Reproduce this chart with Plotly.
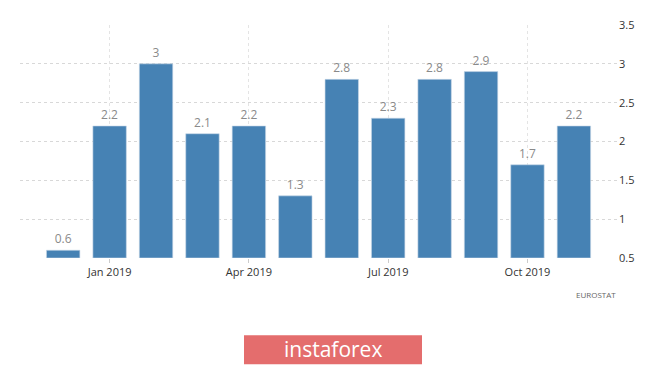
import plotly.graph_objects as go

months = ["Dec 2018", "Jan 2019", "Feb 2019", "Mar 2019", "Apr 2019", "May 2019",
          "Jun 2019", "Jul 2019", "Aug 2019", "Sep 2019", "Oct 2019", "Nov 2019"]
values = [0.6, 2.2, 3.0, 2.1, 2.2, 1.3, 2.8, 2.3, 2.8, 2.9, 1.7, 2.2]
value_labels = ["0.6", "2.2", "3", "2.1", "2.2", "1.3", "2.8", "2.3", "2.8", "2.9", "1.7", "2.2"]
x_ticks = ["Jan 2019", "Apr 2019", "Jul 2019", "Oct 2019"]
y_ticks = [0.5, 1, 1.5, 2, 2.5, 3, 3.5]
y_ticktext = ["0.5", "1", "1.5", "2", "2.5", "3", "3.5"]
axis_base = 0.5

fig = go.Figure()
fig.add_trace(go.Bar(
    x=months, y=[v - axis_base for v in values], base=axis_base,
    marker=dict(color="#4682B4", line=dict(color="#c9d9e8", width=0.6)),
    text=value_labels, textposition="outside", cliponaxis=False,
    textfont=dict(family="Open Sans, Arial, sans-serif", size=12, color="#8a8a8a"),
    width=0.72, hoverinfo="skip",
))

# page body has an 8px margin, so the figure is 8px smaller and offset
fig.update_layout(
    width=657, height=361,
    margin=dict(l=12, r=47, t=9, b=111),
    paper_bgcolor="white", plot_bgcolor="white",
    showlegend=False,
    font=dict(family="Open Sans, Arial, sans-serif", color="#333333"),
    xaxis=dict(
        type="category", range=[-0.93, 11.95],
        tickmode="array", tickvals=x_ticks, ticktext=x_ticks,
        showgrid=True, gridcolor="#e4e4e4", griddash="dot", gridwidth=1,
        ticks="outside", ticklen=4, tickcolor="#cccccc",
        tickfont=dict(size=11, color="#333333"),
        showline=False, zeroline=False,
    ),
    yaxis=dict(
        side="right", range=[0.5, 3.5],
        tickmode="array", tickvals=y_ticks, ticktext=y_ticktext,
        showgrid=True, gridcolor="#d8d8d8", griddash="dot", gridwidth=1,
        tickfont=dict(size=11, color="#333333"),
        ticks="", zeroline=False, showline=False,
    ),
)

fig.add_annotation(
    text="EUROSTAT", xref="paper", yref="paper", x=1.0, y=-0.157,
    xanchor="right", yanchor="middle", showarrow=False,
    font=dict(family="Open Sans, Arial, sans-serif", size=8, color="#666666"),
)

fig.add_shape(
    type="rect", xref="paper", yref="paper",
    x0=(244 - 20) / 598, x1=(422 - 20) / 598,
    y0=(258 - 368) / 241, y1=(258 - 338) / 241,
    fillcolor="#e46d6d", line=dict(width=0), layer="above",
)
fig.add_annotation(
    text="instaforex", xref="paper", yref="paper",
    x=(333 - 20) / 598, y=(258 - 352) / 241,
    xanchor="center", yanchor="middle", showarrow=False,
    font=dict(family="Open Sans, Arial, sans-serif", size=21, color="white"),
)

fig.write_html("out.html")
